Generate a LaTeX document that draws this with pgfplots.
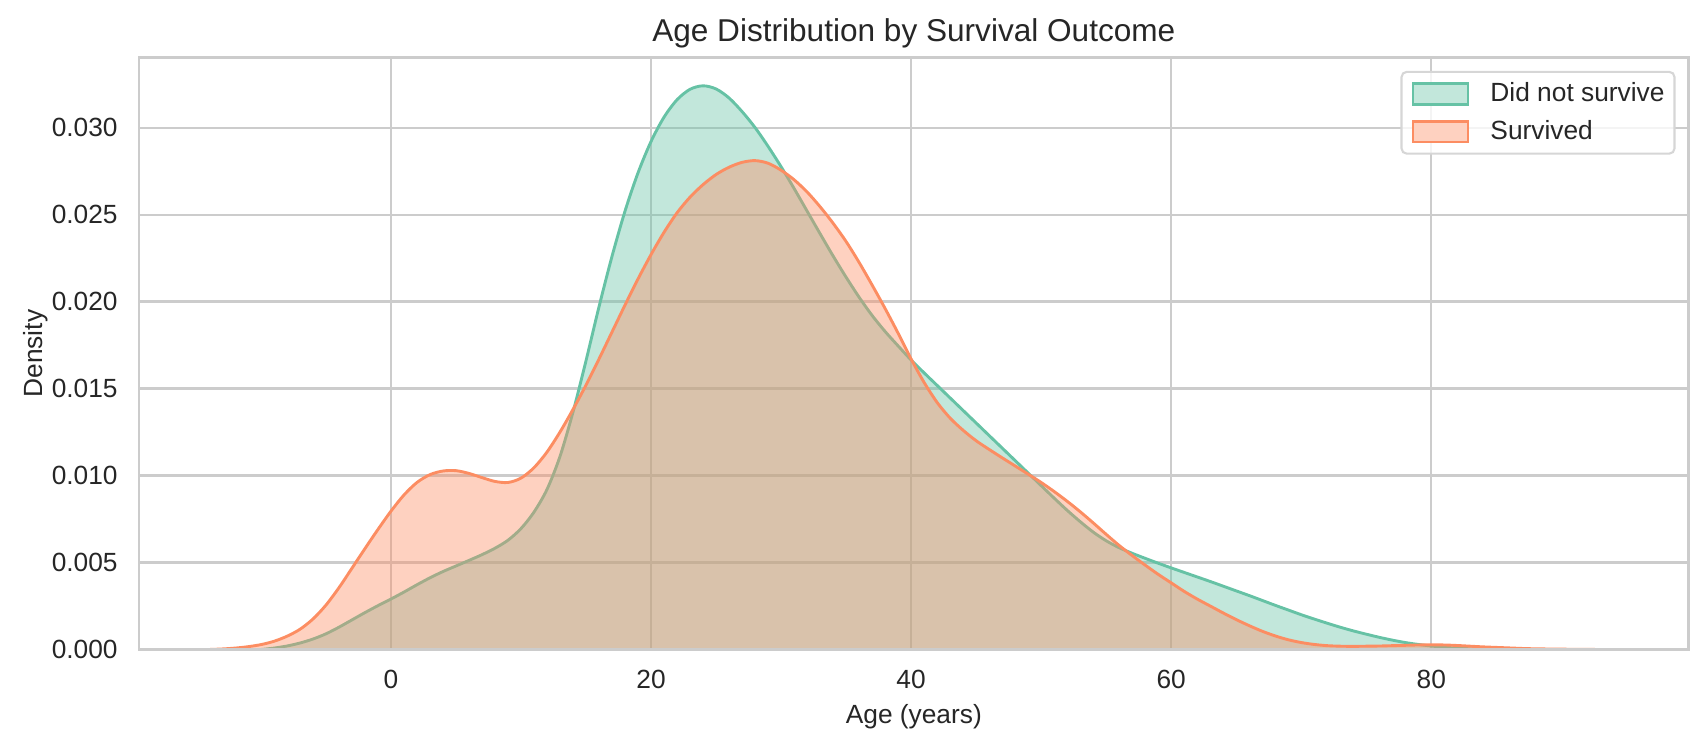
\documentclass[border=0pt]{standalone}
\usepackage{fontspec}
\setmainfont{Liberation Sans}
\usepackage{pgfplots}
\usepackage{pgfplotstable}
\pgfplotsset{compat=1.18}
\definecolor{cgreen}{HTML}{66C2A5}
\definecolor{corange}{HTML}{FC8D62}
\definecolor{cgrid}{HTML}{CCCCCC}
\definecolor{ctext}{HTML}{262626}

\pgfplotstableread{
x y
-10 0
-9 0.00008
-8 0.0002
-7 0.00037
-6 0.0006
-5 0.0009
-4 0.00128
-3 0.0017
-2 0.00212
-1 0.00252
0 0.00290
1 0.00330
2 0.00372
3 0.00412
4 0.00448
5 0.00480
6 0.00512
7 0.00545
8 0.00582
9 0.00628
10 0.00695
11 0.00790
12 0.00920
13 0.01110
14 0.01365
15 0.01660
16 0.01970
17 0.02260
18 0.02520
19 0.02740
20 0.02920
21 0.03060
22 0.03160
23 0.03220
24 0.03240
25 0.03222
26 0.03170
27 0.03092
28 0.03000
29 0.02892
30 0.02775
31 0.02650
32 0.02520
33 0.02390
34 0.02262
35 0.02140
36 0.02025
37 0.01920
38 0.01828
39 0.01745
40 0.01664
41 0.01590
42 0.01518
43 0.01446
44 0.01374
45 0.01302
46 0.01230
47 0.01158
48 0.01086
49 0.01014
50 0.00942
51 0.00870
52 0.00800
53 0.00735
54 0.00675
55 0.00625
56 0.00585
57 0.00553
58 0.00524
59 0.00496
60 0.00469
61 0.00443
62 0.00417
63 0.00391
64 0.00364
65 0.00337
66 0.00310
67 0.00282
68 0.00254
69 0.00227
70 0.00200
71 0.00175
72 0.00151
73 0.00128
74 0.00107
75 0.00088
76 0.00070
77 0.00054
78 0.00040
79 0.00029
80 0.00020
81 0.00013
82 0.00008
83 0.00004
84 0.00002
86 0
}\died

\pgfplotstableread{
x y
-14 0
-13 0.00003
-12 0.00008
-11 0.00016
-10 0.00028
-9 0.00047
-8 0.00076
-7 0.00116
-6 0.00175
-5 0.00255
-4 0.00355
-3 0.00467
-2 0.00580
-1 0.00690
0 0.00795
1 0.00888
2 0.00960
3 0.01005
4 0.01026
5 0.01028
6 0.01012
7 0.00988
8 0.00966
9 0.00960
10 0.00985
11 0.01045
12 0.01135
13 0.01250
14 0.01380
15 0.01520
16 0.01670
17 0.01825
18 0.01980
19 0.02130
20 0.02270
21 0.02398
22 0.02510
23 0.02600
24 0.02672
25 0.02730
26 0.02772
27 0.02800
28 0.02810
29 0.02795
30 0.02755
31 0.02700
32 0.02630
33 0.02545
34 0.02450
35 0.02345
36 0.02225
37 0.02095
38 0.01960
39 0.01818
40 0.01670
41 0.01535
42 0.01420
43 0.01330
44 0.01260
45 0.01200
46 0.01150
47 0.01102
48 0.01055
49 0.01008
50 0.00960
51 0.00908
52 0.00852
53 0.00792
54 0.00728
55 0.00662
56 0.00598
57 0.00540
58 0.00485
59 0.00432
60 0.00383
61 0.00334
62 0.00290
63 0.00250
64 0.00210
65 0.00172
66 0.00137
67 0.00105
68 0.00078
69 0.00056
70 0.00040
71 0.00029
72 0.00022
73 0.00019
74 0.00018
75 0.00019
76 0.00020
77 0.00022
78 0.00024
79 0.00026
80 0.00027
81 0.00026
82 0.00023
83 0.00019
84 0.00015
85 0.00012
86 0.00009
87 0.00006
88 0.00004
90 0.00002
93 0
}\surv

\begin{document}
\begin{tikzpicture}
\begin{axis}[name=ax, at={(0,0)}, anchor=south west,
  scale only axis, width=588.9pt, height=224.9pt,
  xmin=-19.38, xmax=99.8, ymin=0, ymax=0.03402,
  xtick={0,20,40,60,80},
  ytick={0,0.005,0.01,0.015,0.02,0.025,0.03},
  scaled y ticks=false,
  /pgf/number format/assume math mode=true,
  y tick label style={/pgf/number format/fixed, /pgf/number format/fixed zerofill, /pgf/number format/precision=3},
  tick label style={font=\fontsize{10}{12}\selectfont, text=ctext},
  yticklabel style={anchor=east, inner sep=0pt, xshift=-7.9pt},
  xticklabel style={anchor=base, inner sep=0pt, yshift=-14.7pt},
  major tick length=0pt,
  grid=major, major grid style={draw=cgrid, line width=0.8pt},
  axis line style={draw=cgrid, line width=1pt},
  title={Age Distribution by Survival Outcome},
  title style={at={(axis description cs:0.5,1.027)}, anchor=base, yshift=-6pt, inner sep=0pt, font=\fontsize{12}{14}\selectfont, text=ctext},
  xlabel={Age (years)},
  xlabel style={at={(axis description cs:0.5,-0.1246)}, anchor=base, inner sep=0pt, font=\fontsize{10}{12}\selectfont, text=ctext},
  ylabel={Density},
  ylabel style={at={(axis description cs:-0.0625,0.5)}, anchor=base, inner sep=0pt, font=\fontsize{10}{12}\selectfont, text=ctext},
  legend style={at={(1,1)}, anchor=north east, xshift=-5pt, yshift=-5pt,
    draw=black!16, line width=0.8pt, rounded corners=2pt, fill=white, fill opacity=0.8, text opacity=1,
    inner xsep=3.8pt, inner ysep=4pt, row sep=5.5pt,
    font=\fontsize{10}{12}\selectfont, text=ctext, nodes={inner sep=0pt}},
  legend cell align=left,
]
\addlegendimage{legend image code/.code={\draw[draw=cgreen, fill=cgreen!40, fill opacity=1, line width=1pt, sharp corners] (0pt,-3.9pt) rectangle (20.9pt,3.9pt); \path (29.1pt,0pt);}}
\addlegendentry{Did not survive}
\addlegendimage{legend image code/.code={\draw[draw=corange, fill=corange!40, fill opacity=1, line width=1pt, sharp corners] (0pt,-3.9pt) rectangle (20.9pt,3.9pt); \path (29.1pt,0pt);}}
\addlegendentry{Survived}

\addplot[draw=none, fill=cgreen, fill opacity=0.4, smooth, forget plot] table[x=x,y=y]{\died} \closedcycle;
\addplot[draw=cgreen, line width=1.1pt, smooth, forget plot] table[x=x,y=y]{\died};
\addplot[draw=none, fill=corange, fill opacity=0.4, smooth, forget plot] table[x=x,y=y]{\surv} \closedcycle;
\addplot[draw=corange, line width=1.1pt, smooth, forget plot] table[x=x,y=y]{\surv};
\draw[draw=cgrid, line width=1pt] (rel axis cs:0,0) rectangle (rel axis cs:1,1);
\end{axis}
\pgfresetboundingbox
\path[use as bounding box] ([shift={(-52.8pt,-37.05pt)}]ax.south west) rectangle ([shift={(7.33pt,21.9pt)}]ax.north east);
\end{tikzpicture}
\end{document}
